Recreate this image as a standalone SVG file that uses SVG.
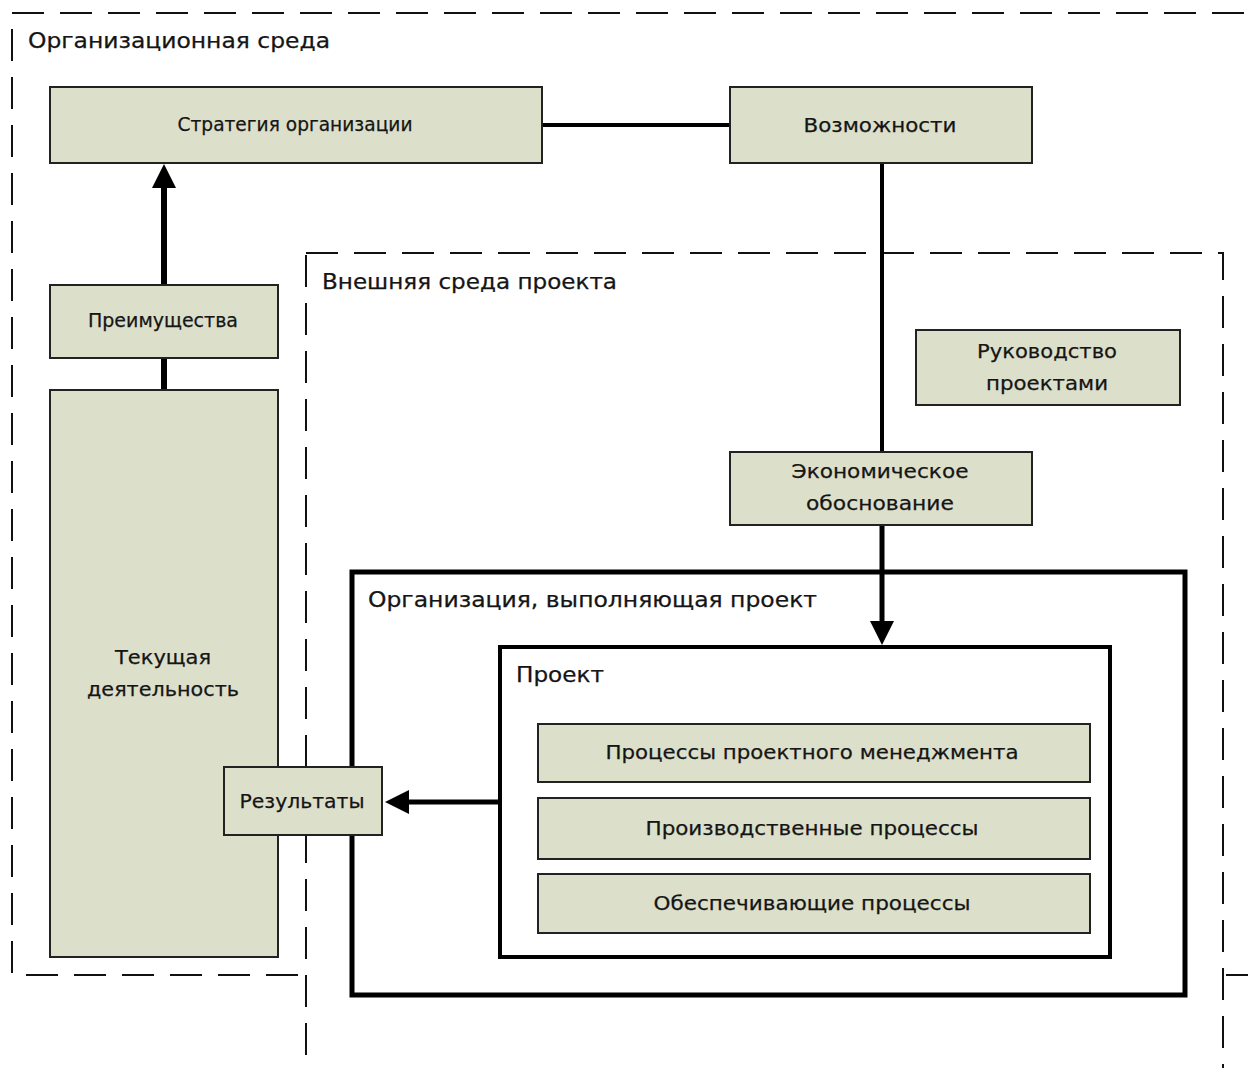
<svg xmlns="http://www.w3.org/2000/svg" width="1248" height="1068" viewBox="0 0 1248 1068">
<style>
.bg{fill:#fff}
.dash{fill:#fff;stroke:#111;stroke-width:2;stroke-dasharray:32 16}
.node{fill:#dcdfca;stroke:#222;stroke-width:2}
.frame{fill:#fff;stroke:#000}
.t{font-family:"DejaVu Sans","Liberation Sans",sans-serif;font-size:20px;fill:#151515;text-anchor:middle;stroke:#151515;stroke-width:0.25}
.lbl{font-family:"DejaVu Sans","Liberation Sans",sans-serif;font-size:20.5px;fill:#151515;stroke:#151515;stroke-width:0.25}
.c{stroke:#000;fill:none}
</style>
<defs>
<marker id="ah" markerUnits="userSpaceOnUse" markerWidth="24" markerHeight="24" refX="1" refY="12" orient="auto" viewBox="0 0 24 24">
<path d="M0,0 L24,12 L0,24 z" fill="#000"/>
</marker>
</defs>
<rect class="bg" x="0" y="0" width="1248" height="1068"/>

<g id="org-env">
<rect class="dash" x="12" y="13" width="1270" height="962"/>
<text class="lbl" x="28" y="48" textLength="302" lengthAdjust="spacingAndGlyphs">Организационная среда</text>
</g>

<g id="ext-env">
<rect class="dash" x="306" y="253" width="917" height="900"/>
<text class="lbl" x="322" y="289" textLength="295" lengthAdjust="spacingAndGlyphs">Внешняя среда проекта</text>
</g>

<g id="performing-org">
<rect class="frame" x="352" y="572" width="833" height="423" stroke-width="5"/>
<text class="lbl" x="368" y="607" textLength="449" lengthAdjust="spacingAndGlyphs">Организация, выполняющая проект</text>
</g>

<g id="project">
<rect class="frame" x="500" y="647" width="610" height="310" stroke-width="4"/>
<text class="lbl" x="516" y="682" textLength="88" lengthAdjust="spacingAndGlyphs">Проект</text>
</g>

<g id="connectors">
<line class="c" x1="542" y1="125" x2="730" y2="125" stroke-width="4"/>
<line class="c" x1="882" y1="163" x2="882" y2="452" stroke-width="4"/>
<line class="c" x1="882" y1="525" x2="882" y2="622" stroke-width="5" marker-end="url(#ah)"/>
<line class="c" x1="500" y1="802" x2="408" y2="802" stroke-width="5" marker-end="url(#ah)"/>
<line class="c" x1="164" y1="285" x2="164" y2="187" stroke-width="6" marker-end="url(#ah)"/>
<line class="c" x1="164" y1="358" x2="164" y2="390" stroke-width="6"/>
</g>

<g id="strategy">
<rect class="node" x="50" y="87" width="492" height="76"/>
<text class="t" x="295" y="131" textLength="235" lengthAdjust="spacingAndGlyphs">Стратегия организации</text>
</g>

<g id="opportunities">
<rect class="node" x="730" y="87" width="302" height="76"/>
<text class="t" x="880" y="132" textLength="153" lengthAdjust="spacingAndGlyphs">Возможности</text>
</g>

<g id="pm-governance">
<rect class="node" x="916" y="330" width="264" height="75"/>
<text class="t" x="1047" y="358" textLength="140" lengthAdjust="spacingAndGlyphs">Руководство</text>
<text class="t" x="1047" y="390" textLength="122" lengthAdjust="spacingAndGlyphs">проектами</text>
</g>

<g id="business-case">
<rect class="node" x="730" y="452" width="302" height="73"/>
<text class="t" x="880" y="478" textLength="177" lengthAdjust="spacingAndGlyphs">Экономическое</text>
<text class="t" x="880" y="510" textLength="148" lengthAdjust="spacingAndGlyphs">обоснование</text>
</g>

<g id="benefits">
<rect class="node" x="50" y="285" width="228" height="73"/>
<text class="t" x="163" y="327" textLength="150" lengthAdjust="spacingAndGlyphs">Преимущества</text>
</g>

<g id="operations">
<rect class="node" x="50" y="390" width="228" height="567"/>
<text class="t" x="163" y="664" textLength="96" lengthAdjust="spacingAndGlyphs">Текущая</text>
<text class="t" x="163" y="696" textLength="152" lengthAdjust="spacingAndGlyphs">деятельность</text>
</g>

<g id="results">
<rect class="node" x="224" y="767" width="158" height="68"/>
<text class="t" x="302" y="808" textLength="125" lengthAdjust="spacingAndGlyphs">Результаты</text>
</g>

<g id="pm-processes">
<rect class="node" x="538" y="724" width="552" height="58"/>
<text class="t" x="812" y="759" textLength="413" lengthAdjust="spacingAndGlyphs">Процессы проектного менеджмента</text>
</g>

<g id="production-processes">
<rect class="node" x="538" y="798" width="552" height="61"/>
<text class="t" x="812" y="835" textLength="333" lengthAdjust="spacingAndGlyphs">Производственные процессы</text>
</g>

<g id="support-processes">
<rect class="node" x="538" y="874" width="552" height="59"/>
<text class="t" x="812" y="910" textLength="317" lengthAdjust="spacingAndGlyphs">Обеспечивающие процессы</text>
</g>
</svg>
